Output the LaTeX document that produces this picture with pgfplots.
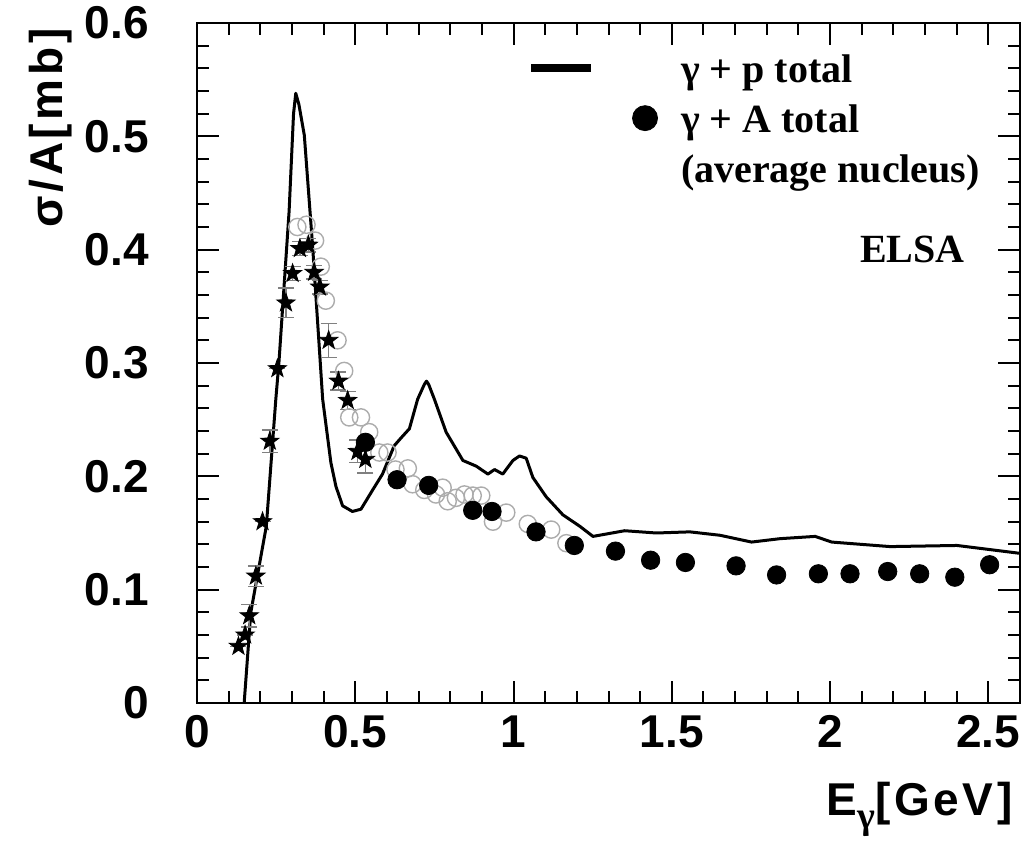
\documentclass[border=0pt]{standalone}
\usepackage{fontspec}
\setmainfont{Liberation Sans}
\newfontfamily\timesfont{Liberation Serif}
\newfontfamily\labelfont{Liberation Sans}[LetterSpace=8]
\usepackage{pgfplots}
\pgfplotsset{compat=1.18}
\pgfdeclareplotmark{fstar}{%
  \pgfpathmoveto{\pgfpointpolar{90}{\pgfplotmarksize}}%
  \pgfpathlineto{\pgfpointpolar{126}{0.40\pgfplotmarksize}}%
  \pgfpathlineto{\pgfpointpolar{162}{\pgfplotmarksize}}%
  \pgfpathlineto{\pgfpointpolar{198}{0.40\pgfplotmarksize}}%
  \pgfpathlineto{\pgfpointpolar{234}{\pgfplotmarksize}}%
  \pgfpathlineto{\pgfpointpolar{270}{0.40\pgfplotmarksize}}%
  \pgfpathlineto{\pgfpointpolar{306}{\pgfplotmarksize}}%
  \pgfpathlineto{\pgfpointpolar{342}{0.40\pgfplotmarksize}}%
  \pgfpathlineto{\pgfpointpolar{18}{\pgfplotmarksize}}%
  \pgfpathlineto{\pgfpointpolar{54}{0.40\pgfplotmarksize}}%
  \pgfpathclose\pgfusepathqfillstroke}

\pgfplotstableread{
x y
0.149 0.000
0.170 0.080
0.219 0.156
0.249 0.268
0.259 0.301
0.291 0.434
0.305 0.520
0.312 0.538
0.322 0.528
0.339 0.501
0.365 0.404
0.386 0.315
0.397 0.268
0.423 0.212
0.439 0.191
0.460 0.174
0.491 0.169
0.518 0.171
0.555 0.188
0.586 0.202
0.623 0.227
0.645 0.234
0.671 0.242
0.697 0.268
0.718 0.281
0.725 0.284
0.732 0.281
0.750 0.268
0.787 0.239
0.840 0.214
0.882 0.209
0.919 0.202
0.940 0.206
0.966 0.202
0.998 0.214
1.019 0.218
1.040 0.216
1.061 0.199
1.103 0.182
1.156 0.166
1.209 0.156
1.251 0.147
1.351 0.152
1.451 0.150
1.557 0.151
1.652 0.148
1.752 0.142
1.842 0.145
1.953 0.147
2.005 0.142
2.190 0.138
2.401 0.139
2.601 0.132
}\gptotal

\pgfplotstableread{
x y e
0.131 0.050 0.000
0.152 0.060 0.000
0.165 0.077 0.010
0.186 0.112 0.009
0.207 0.160 0.000
0.230 0.231 0.010
0.254 0.295 0.000
0.281 0.353 0.013
0.302 0.379 0.006
0.325 0.401 0.006
0.352 0.404 0.006
0.370 0.380 0.006
0.388 0.367 0.006
0.416 0.320 0.015
0.447 0.284 0.008
0.476 0.267 0.008
0.507 0.222 0.010
0.532 0.215 0.012
}\stars

\pgfplotstableread{
x y
0.532 0.230
0.632 0.197
0.732 0.192
0.871 0.170
0.932 0.169
1.071 0.151
1.192 0.139
1.322 0.134
1.433 0.126
1.543 0.124
1.703 0.121
1.831 0.113
1.963 0.114
2.063 0.114
2.182 0.116
2.283 0.114
2.394 0.111
2.504 0.122
}\gAtotal

\pgfplotstableread{
x y
0.317 0.420
0.346 0.422
0.373 0.408
0.391 0.385
0.407 0.355
0.444 0.320
0.465 0.293
0.481 0.252
0.518 0.252
0.544 0.239
0.576 0.221
0.602 0.221
0.627 0.206
0.666 0.207
0.681 0.193
0.718 0.188
0.755 0.184
0.776 0.190
0.792 0.178
0.818 0.181
0.845 0.184
0.871 0.183
0.898 0.183
0.935 0.160
0.977 0.168
1.045 0.158
1.119 0.153
1.167 0.141
}\opencirc

\begin{document}
\begin{tikzpicture}
\begin{axis}[
  name=ax,
  scale only axis, width=411.5pt, height=340pt,
  xmin=0, xmax=2.6, ymin=0, ymax=0.6,
  xtick={0,0.5,1,1.5,2,2.5},
  xticklabels={0,0.5,1,1.5,2,2.5},
  ytick={0,0.1,0.2,0.3,0.4,0.5,0.6},
  yticklabels={0,0.1,0.2,0.3,0.4,0.5,0.6},
  minor x tick num=4, minor y tick num=4,
  tick align=inside,
  major tick length=11pt, minor tick length=6pt,
  axis line style={line width=1.2pt},
  every tick/.style={black, line width=1pt},
  tick label style={font=\fontsize{23}{23}\selectfont\bfseries},
  /pgf/number format/assume math mode=true,
  xticklabel style={inner sep=0pt, anchor=north, yshift=-6pt},
  yticklabel style={inner sep=0pt, anchor=east, xshift=-24pt},
  legend style={
    at={(0.401,0.963)}, anchor=north west,
    draw=none, fill=none, inner sep=0pt, outer sep=0pt,
    row sep=5pt, column sep=0pt,
    nodes={inner sep=0pt, outer sep=0pt, text height=17pt, text depth=3pt,
      font=\fontsize{20}{20}\selectfont\timesfont\bfseries},
  },
  legend cell align=left,
]
\addplot[only marks, mark=o, mark size=4.3pt, draw=gray!65, mark options={line width=0.7pt}, forget plot] table[x=x,y=y] {\opencirc};
\addplot[black, line width=1.5pt, line join=round, no marks, forget plot] table[x=x,y=y] {\gptotal};
\addplot[only marks, mark=fstar, mark size=4.8pt, black, forget plot,
  error bars/.cd, y dir=both, y explicit,
  error bar style={gray, line width=0.7pt},
  error mark options={rotate=90, gray, mark size=4pt, line width=0.7pt}]
  table[x=x,y=y,y error=e] {\stars};
\addplot[only marks, mark=*, mark size=4.6pt, black, forget plot] table[x=x,y=y] {\gAtotal};

\addlegendimage{legend image code/.code={
  \draw[line width=4pt, black] (-57pt,0pt) -- (-27pt,0pt);
  \path[draw=none, fill=none] (-57pt,0pt) rectangle (18pt,0.1pt);}}
\addlegendentry{γ + p total}
\addlegendimage{legend image code/.code={
  \path[draw=none, fill=none] (-57pt,0pt) rectangle (18pt,0.1pt);
  \draw plot[mark=*, mark size=6.25pt, mark options={black}] coordinates {(0pt,0pt)};}}
\addlegendentry{γ + A total}
\addlegendimage{empty legend}
\addlegendentry{(average nucleus)}
\end{axis}

\node[anchor=base east, inner sep=0pt, font=\fontsize{20}{20}\selectfont\timesfont\bfseries]
  at ([xshift=-27.5pt,yshift=-120pt]ax.north east) {ELSA};
\node[anchor=base east, inner sep=0pt, font=\fontsize{23}{23}\selectfont\labelfont\bfseries]
  at ([xshift=-3.5pt,yshift=-56pt]ax.south east)
  {E\raisebox{-0.3em}{\fontsize{19}{19}\selectfont\timesfont γ}[GeV]};
\node[rotate=90, anchor=base east, inner sep=0pt, font=\fontsize{23}{23}\selectfont\labelfont\bfseries]
  at ([xshift=-67pt,yshift=-2.5pt]ax.north west) {σ/A[mb]};

\pgfresetboundingbox
\path ([shift={(-98.5pt,-76pt)}]ax.south west) rectangle ([shift={(2.5pt,11.5pt)}]ax.north east);
\end{tikzpicture}
\end{document}
